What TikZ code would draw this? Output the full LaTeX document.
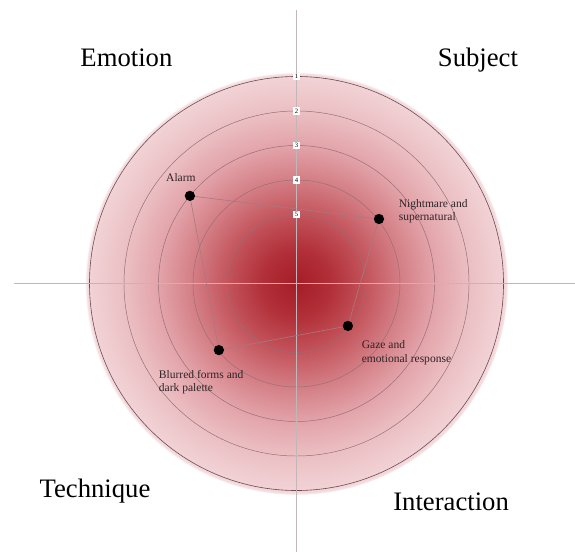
\documentclass[tikz,border=0pt]{standalone}
\usepackage{fontspec}
\setmainfont{Liberation Serif}

\definecolor{glowcore}{RGB}{165,28,38}
\definecolor{glowa}{RGB}{178,48,57}
\definecolor{glowb}{RGB}{195,84,92}
\definecolor{glowc}{RGB}{212,126,133}
\definecolor{glowd}{RGB}{226,163,169}
\definecolor{glowe}{RGB}{235,191,195}
\definecolor{glowf}{RGB}{241,210,213}
\definecolor{glowrim}{RGB}{245,222,224}
\definecolor{ringline}{RGB}{150,110,118}
\definecolor{ringdark}{RGB}{110,75,85}
\definecolor{axisgray}{RGB}{195,182,185}
\definecolor{linkline}{RGB}{170,120,128}
\definecolor{inkgray}{RGB}{45,35,38}

\pgfdeclareradialshading{glow}{\pgfpoint{0bp}{0bp}}{%
  color(0bp)=(glowcore); color(4.1bp)=(glowa); color(8.2bp)=(glowb);
  color(12.3bp)=(glowc); color(16.3bp)=(glowd); color(20.4bp)=(glowe);
  color(24.4bp)=(glowf); color(24.8bp)=(glowrim); color(25bp)=(white);
  color(50bp)=(white)}

\begin{document}
\begin{tikzpicture}
        [every node/.style={text=inkgray,font=\fontsize{9.5}{11}\selectfont},
         dot/.style={circle,fill=black,inner sep=0pt,minimum size=8.5pt},
         ring/.style={draw=ringline,line width=0.4pt},
         tick/.style={fill=white,inner sep=1.3pt,text=black,font=\fontsize{5.5}{5.5}\selectfont},
         corner/.style={anchor=base,text=black,font=\fontsize{22}{26}\selectfont},
         note/.style={anchor=west,align=left}]
        \useasboundingbox (-8.594,-7.768) rectangle (8.072,8.217);

        % the glowing disk
        \shade[shading=glow] (0,0) circle (6.13);
        \draw[ring] (0,0) circle (2);
        \draw[ring] (0,0) circle (3);
        \draw[ring] (0,0) circle (4);
        \draw[ring] (0,0) circle (5);
        \draw[draw=ringdark,line width=0.5pt] (0,0) circle (6);

        % the axes
        \draw[axisgray,line width=0.5pt] (-8.19,0) -- (8.09,0);
        \draw[axisgray,line width=0.5pt] (0,7.93) -- (0,-7.78);

        % the scale
        \node[tick] (s1) at (0,6) {1};
        \node[tick] (s2) at (0,5) {2};
        \node[tick] (s3) at (0,4) {3};
        \node[tick] (s4) at (0,3) {4};
        \node[tick] (s5) at (0,2) {5};

        % the four points
        \node[dot] (alarm) at (-3.09, 2.54) {};
        \node[dot] (night) at ( 2.39, 1.87) {};
        \node[dot] (gaze)  at ( 1.49,-1.23) {};
        \node[dot] (blur)  at (-2.25,-1.93) {};

        \draw[linkline,line width=0.5pt] (alarm) -- (night);
        \draw[linkline,line width=0.5pt] (night) -- (gaze);
        \draw[linkline,line width=0.5pt] (gaze) -- (blur);
        \draw[linkline,line width=0.5pt] (blur) -- (alarm);

        % point labels
        \node (alarmtext) at (-3.35, 3.06) {Alarm};
        \node[note] (nighttext) at (2.84, 2.10) {Nightmare and\\supernatural};
        \node[note] (gazetext)  at (1.77,-2.01) {Gaze and\\emotional response};
        \node[note] (blurtext)  at (-4.11,-2.86) {Blurred forms and\\dark palette};

        % quadrant names
        \node[corner] (emotion)     at (-4.93, 6.28) {Emotion};
        \node[corner] (subject)     at ( 5.26, 6.30) {Subject};
        \node[corner] (technique)   at (-5.84,-6.20) {Technique};
        \node[corner] (interaction) at ( 4.48,-6.57) {Interaction};
    \end{tikzpicture}
\end{document}
